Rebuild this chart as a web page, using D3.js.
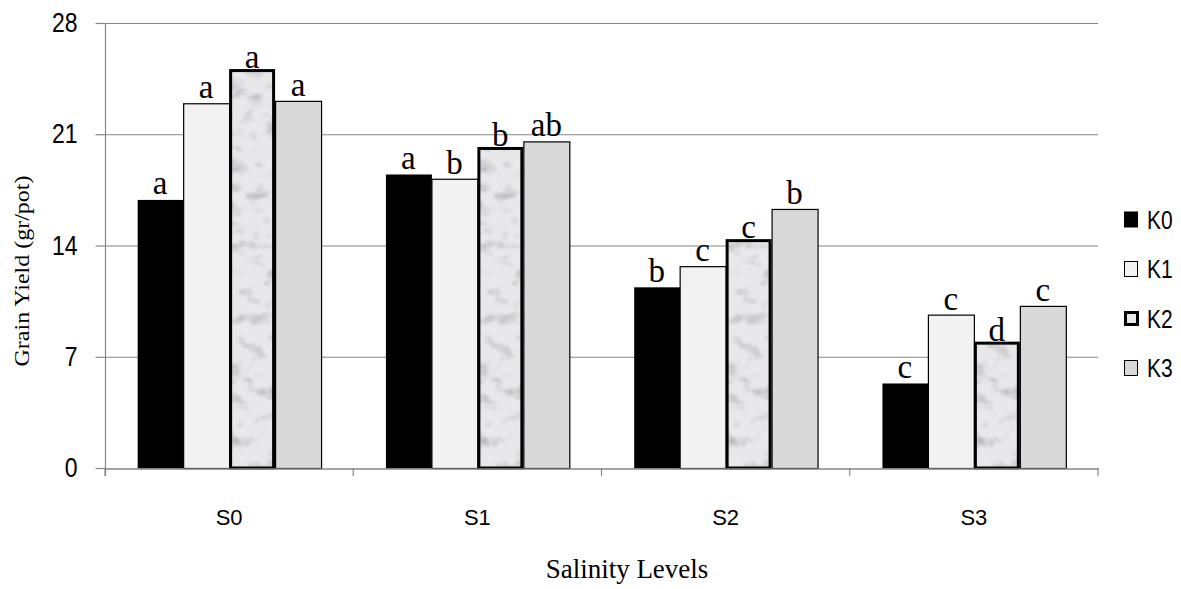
<!DOCTYPE html>
<html><head><meta charset="utf-8">
<script src="https://cdn.jsdelivr.net/npm/d3@7"></script>
<style>body{margin:0;background:#fff}</style>
</head><body>
<svg id="c" width="1181" height="589"></svg>
<script>
const categories = ["S0","S1","S2","S3"];
const seriesNames = ["K0","K1","K2","K3"];
const K0 = [16.9, 18.5, 11.4, 5.35];
const K1 = [22.95, 18.2, 12.7, 9.65];
const K2 = [25.1, 20.2, 14.4, 7.95];
const K3 = [23.1, 20.55, 16.3, 10.2];
const letters0 = ["a","a","b","c"];
const letters1 = ["a","b","c","c"];
const letters2 = ["a","b","c","d"];
const letters3 = ["a","ab","b","c"];
const yTicks = [0,7,14,21,28];

const series = [K0,K1,K2,K3];
const lettersAll = [letters0,letters1,letters2,letters3];

const svg = d3.select("#c");
const L = 105, R = 1098, T = 23, B = 468;
const x = d3.scaleBand().domain(categories).range([L,R]).paddingInner(0).paddingOuter(0);
const xi = d3.scaleBand().domain(seriesNames).range([0,x.bandwidth()]).paddingInner(0).paddingOuter(0.7);
const y = d3.scaleLinear().domain([0,28]).range([B,T]);

const defs = svg.append("defs");
const f = defs.append("filter").attr("id","marble").attr("x",0).attr("y",0).attr("width","100%").attr("height","100%");
f.append("feTurbulence").attr("type","fractalNoise").attr("baseFrequency","0.05 0.08").attr("numOctaves",3).attr("seed",7).attr("result","n");
f.append("feColorMatrix").attr("in","n").attr("type","matrix")
 .attr("values","0 0 0 0 0.5  0 0 0 0 0.5  0 0 0 0 0.52  -3.2 0 0 0 1.55").attr("result","m");
f.append("feGaussianBlur").attr("in","m").attr("stdDeviation",1).attr("result","mb");
f.append("feComposite").attr("in","mb").attr("in2","SourceGraphic").attr("operator","in").attr("result","mm");
f.append("feMerge").call(g=>{g.append("feMergeNode").attr("in","SourceGraphic");g.append("feMergeNode").attr("in","mm");});

// gridlines
svg.append("g").selectAll("line").data(yTicks.filter(d=>d>0)).join("line")
 .attr("x1",L).attr("x2",R).attr("y1",d=>y(d)+0.5).attr("y2",d=>y(d)+0.5)
 .attr("stroke","#868686").attr("stroke-width",1.2);

// y axis
const ya = svg.append("g").attr("transform",`translate(${L+0.5},0)`)
 .call(d3.axisLeft(y).tickValues(yTicks).tickSize(10).tickPadding(18));
ya.select(".domain").attr("stroke","#868686").attr("stroke-width",1.2).attr("d",`M0,${T}V${B+8}`);
ya.selectAll(".tick line").attr("stroke","#868686").attr("stroke-width",1.2);
ya.selectAll("text").attr("font-family","'Liberation Sans'").attr("font-size",23).attr("fill","#000")
 .attr("transform","scale(1,1.18)");

// bars
const fills = ["#000","#f2f2f2","#e8e8ea","#d9d9d9"];
const groups = svg.append("g").selectAll("g").data(categories).join("g")
 .attr("transform",d=>`translate(${x(d)},0)`);
groups.each(function(cat,ci){
  const g = d3.select(this);
  seriesNames.forEach((s,si)=>{
    const v = series[si][ci];
    const bx = xi(s), bw = xi.bandwidth();
    if(si===2){
      g.append("rect").attr("x",bx+1.5).attr("y",y(v)+1.5).attr("width",bw-3).attr("height",B-y(v)-1.5)
        .attr("fill",fills[si]).attr("filter","url(#marble)");
      g.append("rect").attr("x",bx+1.5).attr("y",y(v)+1.5).attr("width",bw-3).attr("height",B-y(v)-1.5)
        .attr("fill","none").attr("stroke","#000").attr("stroke-width",3);
    } else {
      g.append("rect").attr("x",bx+0.5).attr("y",y(v)+0.5).attr("width",bw).attr("height",B-y(v))
        .attr("fill",fills[si]).attr("stroke","#000").attr("stroke-width",si===0?0:1.2);
    }
    g.append("text").attr("x",bx+bw/2).attr("y",y(v)-(si===2?1:5)).attr("text-anchor","middle")
      .attr("font-family","'Liberation Serif'").attr("font-size",33).text(lettersAll[si][ci]);
  });
});

// x axis
const xa = svg.append("g").attr("transform",`translate(0,${B+0.5})`)
 .call(d3.axisBottom(x).tickSize(0));
xa.select(".domain").attr("stroke","#868686").attr("stroke-width",1.5);
xa.selectAll("text").attr("font-family","'Liberation Sans'").attr("font-size",22).attr("fill","#000")
 .attr("dy",null).attr("y",56.5);
svg.append("g").selectAll("line").data(categories.concat(["end"])).join("line")
 .attr("x1",(d,i)=>i<4?x(d):R).attr("x2",(d,i)=>i<4?x(d):R)
 .attr("y1",B).attr("y2",B+8).attr("stroke","#868686").attr("stroke-width",1.2);

// axis titles
svg.append("text").attr("transform","translate(29,271) rotate(-90) scale(1.2,1)").attr("text-anchor","middle")
 .attr("font-family","'Liberation Serif'").attr("font-size",20).text("Grain Yield (gr/pot)");
svg.append("text").attr("x",627).attr("y",578).attr("text-anchor","middle")
 .attr("font-family","'Liberation Serif'").attr("font-size",27).text("Salinity Levels");

// legend
const leg = svg.append("g").selectAll("g").data(seriesNames).join("g")
 .attr("transform",(d,i)=>`translate(1124,${[219.5,269,318.5,368][i]})`);
leg.append("rect").attr("x",(d,i)=>i===2?1.5:0.5).attr("y",(d,i)=>i===2?-6:-7.5).attr("width",(d,i)=>i===2?12:13).attr("height",(d,i)=>i===2?12:15)
 .attr("fill",(d,i)=>fills[i]).attr("stroke","#000").attr("stroke-width",(d,i)=>i===2?3:1);
leg.append("text").attr("transform","translate(23,0) scale(1,1.2)").attr("y",7.5)
 .attr("font-family","'Liberation Sans'").attr("font-size",21).text(d=>d);
</script>
</body></html>
